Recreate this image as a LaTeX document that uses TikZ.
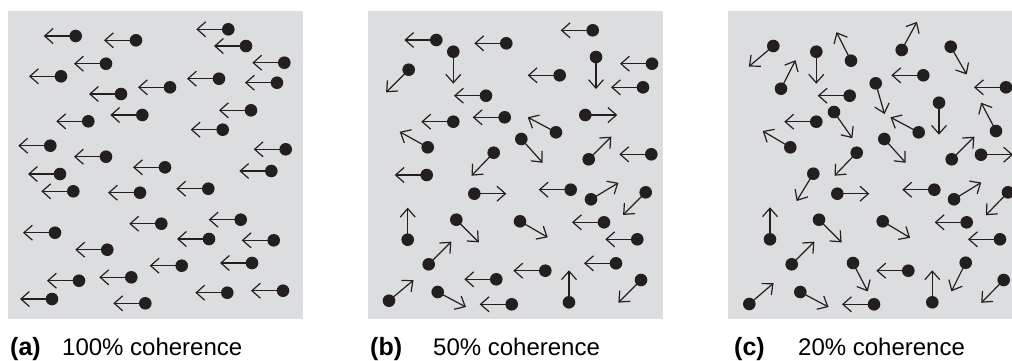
\documentclass[tikz,border=0pt]{standalone}
\usepackage{fontspec}
\setmainfont{Liberation Sans}
\usetikzlibrary{arrows.meta}
\definecolor{panelgray}{HTML}{DCDDDF}
\definecolor{dotblack}{HTML}{231F20}
\begin{document}
\begin{tikzpicture}[x=1pt,y=-1pt,
  panel/.style={fill=panelgray},
  shaft/.style={line width=1.2pt, draw=dotblack, -{Straight Barb[length=8.5pt,width=15pt]}},
  dotfill/.style={fill=dotblack},
  lab/.style={anchor=base west, inner sep=0pt, text=black, font=\fontsize{24}{28}\selectfont},
  labb/.style={lab, font=\fontsize{25}{29}\selectfont\bfseries}]
\useasboundingbox (0,0) rectangle (1012,360);
% panels
\fill[panel] (8,11) rectangle (303,319);
\fill[panel] (368,11) rectangle (663,319);
\fill[panel] (728,11) rectangle (1023,319);
% panel (a): 100% coherence
\foreach \x/\y/\a in {
 75.7/36/180, 136/40.3/180, 228.3/29.3/180, 246/46/180, 106/63.7/180,
 284.3/62.7/180, 61/76.3/180, 219/78.7/180, 277/82.7/180, 170/87.3/180,
 121/94/180, 142.3/115/180, 251/110.3/180, 88.3/121.3/180, 222.7/129.7/180,
 50.3/145.7/180, 285.7/149.3/180, 106/156.7/180, 165/167.3/180, 60/174/180,
 271.3/171/180, 73.3/191.3/180, 140/192.7/180, 208.3/188.7/180, 240.7/219.7/180,
 161.3/223.7/180, 55/232.7/180, 209/239/180, 273.7/240.3/180, 107.3/249.7/180,
 181.7/265.7/180, 252/263/180, 79/280.7/180, 131.3/277.3/180, 227.3/292.7/180,
 283/290.7/180, 52/299/180, 145.3/303.3/180}{
  \draw[shaft] (\x,\y) -- ++({32*cos(\a)},{32*sin(\a)});
  \fill[dotfill] (\x,\y) circle[radius=6.3];
}
% panel (b): 50% coherence
\foreach \x/\y/\a in {
 436.3/40/180, 506.3/43.3/180, 592.7/30.3/180, 453.3/51.7/90, 408.7/69.7/135,
 559.7/75.3/180, 596/57/90, 652/63.7/180, 643/87.3/180, 486/95.7/180,
 504.7/117.3/180, 453.3/121.7/180, 585.3/115/0, 556/132.3/208, 427.7/147.3/209,
 521.3/139/48, 493.7/152.7/134, 588.7/159.3/-45, 651.3/154.3/180, 426.7/175/180,
 474.3/193.7/0, 570.7/189.7/180, 591/199.3/-31, 645.7/192.3/135, 407.7/239.7/270,
 456.3/219.7/45, 520/221.3/30, 604/222.3/180, 637.3/239.3/180, 428.7/264.3/-45,
 616/263.3/180, 545.3/270.7/180, 496.3/279.3/180, 641/280/135, 569/302.3/270,
 389/300.7/-40, 437.7/292/28, 511.7/304.3/180}{
  \draw[shaft] (\x,\y) -- ++({32*cos(\a)},{32*sin(\a)});
  \fill[dotfill] (\x,\y) circle[radius=6.3];
}
% panel (c): 20% coherence
\foreach \x/\y/\a in {
 773.3/46/140, 816.3/51.7/90, 851/60.7/-117, 901.7/50/-61.5, 950.7/46.7/60,
 781/88.7/-63, 923.3/75.3/180, 875.7/83.3/74, 1006/87.3/180, 849.7/95.7/180,
 834/112/55, 939/102.7/90, 816.3/121.7/180, 918.7/132.3/-152, 996/131/-117.7,
 790.3/147.3/-149.4, 884.3/139/48, 856.7/152.7/134, 951.7/159.3/-45, 981/154.7/0,
 813.3/173.7/121.4, 837.3/193.7/0, 934.3/189.7/180, 954/199.3/-31.7, 1008/192.3/134,
 770/239.3/270, 819/219.7/45, 882.7/221.3/31, 966.7/222.3/180, 1000/239.3/180,
 791.7/264.3/-45, 965.7/262.7/116.6, 908.3/270.7/180, 853/263/62.6, 1003.7/280/134.6,
 932.3/302.3/270, 749.3/304/-40.7, 800.3/292/28, 874/304.3/180}{
  \draw[shaft] (\x,\y) -- ++({32*cos(\a)},{32*sin(\a)});
  \fill[dotfill] (\x,\y) circle[radius=6.3];
}
% captions
\node[labb] (la) at (10,355) {(a)};
\node[lab]  (ta) at (62,355) {100\% coherence};
\node[labb] (lb) at (370,355) {(b)};
\node[lab]  (tb) at (433,355) {50\% coherence};
\node[labb] (lc) at (734,355) {(c)};
\node[lab]  (tc) at (798,355) {20\% coherence};
\end{tikzpicture}
\end{document}
